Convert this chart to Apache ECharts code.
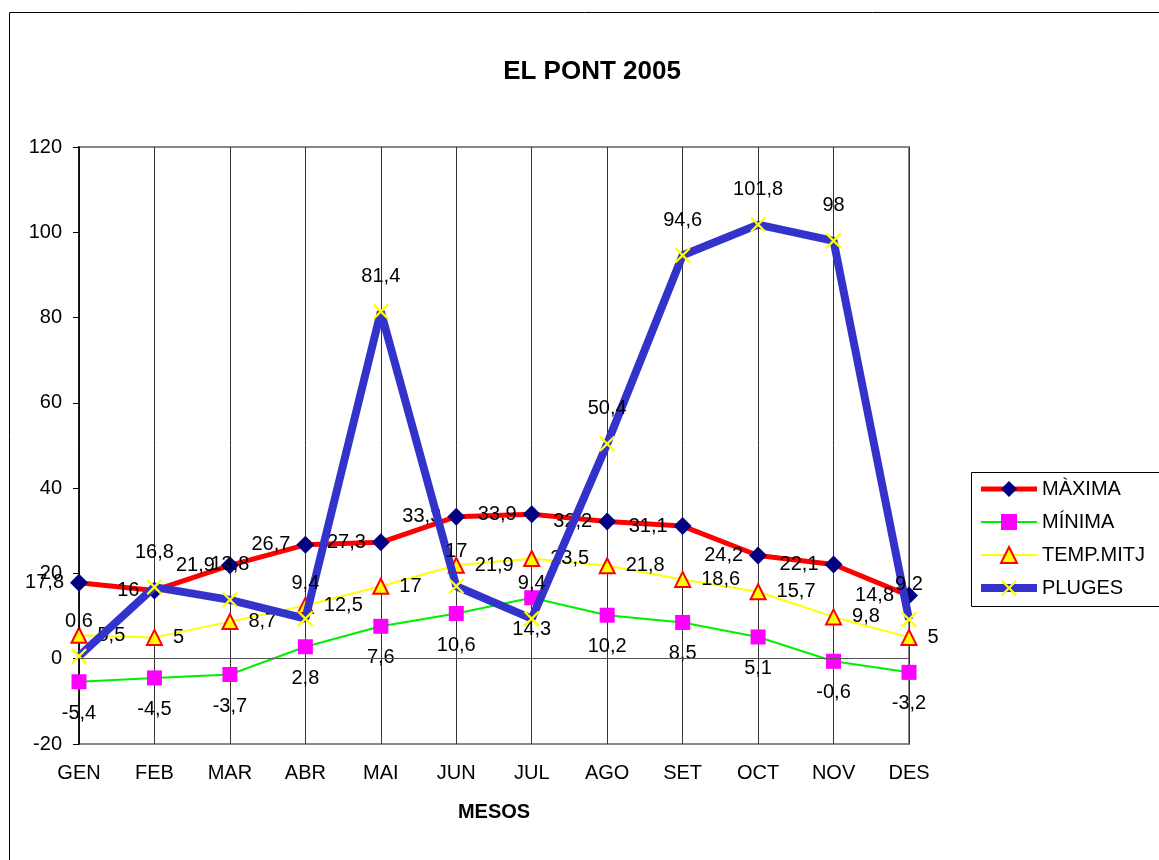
<!DOCTYPE html>
<html>
<head>
<meta charset="utf-8">
<title>EL PONT 2005</title>
<script src="https://cdn.jsdelivr.net/npm/echarts@6/dist/echarts.min.js"></script>
<style>
    html, body { margin: 0; padding: 0; background: #fff; }
    #chart { width: 1159px; height: 860px; }
</style>
</head>
<body>
<div id="chart"></div>
<script>
// dades
const mesos = ["GEN", "FEB", "MAR", "ABR", "MAI", "JUN", "JUL", "AGO", "SET", "OCT", "NOV", "DES"];
const maxima = [17.8, 16, 21.9, 26.7, 27.3, 33.3, 33.9, 32.2, 31.1, 24.2, 22.1, 14.8];
const minima = [-5.4, -4.5, -3.7, 2.8, 7.6, 10.6, 14.3, 10.2, 8.5, 5.1, -0.6, -3.2];
const tempMitj = [5.5, 5, 8.7, 12.5, 17, 21.9, 23.5, 21.8, 18.6, 15.7, 9.8, 5];
const pluges = [0.6, 16.8, 13.8, 9.4, 81.4, 17, 9.4, 50.4, 94.6, 101.8, 98, 9.2];

(function () {
    let myChart = echarts.init(document.getElementById("chart"));
    const font = "Liberation Sans, Arial, sans-serif";
    // etiqueta amb coma decimal
    const coma = function (p) { return String(p.value).replace(".", ","); };
    const creu = "path://M0,1L1,0L5,4L9,0L10,1L6,5L10,9L9,10L5,6L1,10L0,9L4,5Z";

    let option = {
        animation: false,
        textStyle: { fontFamily: font },
        title: {
            text: "EL PONT 2005",
            left: 587,
            textAlign: "center",
            top: 54,
            textStyle: { fontSize: 26, fontWeight: "bold", color: "#000", fontFamily: font }
        },
        graphic: [
            {
                type: "rect",
                shape: { x: 9.5, y: 12.5, width: 1200, height: 900 },
                style: { fill: "none", stroke: "#000", lineWidth: 1 },
                z: -1
            },
            {
                type: "rect",
                shape: { x: 971.5, y: 472.5, width: 250, height: 134 },
                style: { fill: "#fff", stroke: "#000", lineWidth: 1 },
                z: 0
            }
        ],
        legend: {
            orient: "vertical",
            left: 977,
            top: 479,
            padding: 0,
            itemWidth: 56,
            itemHeight: 20,
            itemGap: 13,
            lineStyle: { width: "inherit" },
            textStyle: { fontSize: 20, color: "#000", fontFamily: font },
            data: ["MÀXIMA", "MÍNIMA", "TEMP.MITJ", "PLUGES"]
        },
        grid: {
            left: 79,
            right: 250,
            top: 147,
            bottom: 116,
            show: true,
            borderColor: "#888",
            borderWidth: 2
        },
        xAxis: {
            type: "category",
            data: mesos,
            boundaryGap: false,
            name: "MESOS",
            nameLocation: "middle",
            nameGap: 58,
            nameTextStyle: { fontSize: 20, fontWeight: "bold", color: "#000" },
            axisLine: { show: false },
            axisTick: { show: false },
            axisLabel: { color: "#000", fontSize: 20, margin: 19 },
            splitLine: { show: true, lineStyle: { color: "#333", width: 1 } }
        },
        yAxis: {
            type: "value",
            min: -20,
            max: 120,
            interval: 20,
            axisLine: { show: true, lineStyle: { color: "#000", width: 1.5 } },
            axisTick: { show: true, length: 6, lineStyle: { color: "#000" } },
            axisLabel: { color: "#000", fontSize: 20, margin: 17 },
            splitLine: { show: false }
        },
        series: [
            {
                name: "MÀXIMA",
                type: "line",
                data: maxima,
                symbol: "diamond",
                symbolSize: 18,
                lineStyle: { color: "#ff0000", width: 5 },
                itemStyle: { color: "#000080" },
                label: { show: true, position: "left", distance: 6, fontSize: 20, color: "#000", formatter: coma },
                z: 3
            },
            {
                name: "MÍNIMA",
                type: "line",
                data: minima,
                symbol: "rect",
                symbolSize: 15,
                lineStyle: { color: "#00ee00", width: 2 },
                itemStyle: { color: "#ff00ff" },
                label: { show: true, position: "bottom", distance: 14, fontSize: 20, color: "#000", formatter: coma },
                markLine: {
                    silent: true,
                    symbol: "none",
                    label: { show: false },
                    lineStyle: { color: "#555", width: 1, type: "solid" },
                    data: [{ yAxis: 0 }]
                },
                z: 2
            },
            {
                name: "TEMP.MITJ",
                type: "line",
                data: tempMitj,
                symbol: "triangle",
                symbolSize: 15,
                lineStyle: { color: "#ffff00", width: 2 },
                itemStyle: { color: "#ffff00", borderColor: "#ff0000", borderWidth: 2 },
                label: { show: true, position: "right", distance: 10, fontSize: 20, color: "#000", formatter: coma },
                z: 2
            },
            {
                name: "PLUGES",
                type: "line",
                data: pluges,
                symbol: creu,
                symbolSize: 16,
                lineStyle: { color: "#3333cc", width: 8 },
                itemStyle: { color: "#ffff00" },
                label: { show: true, position: "top", distance: 17, fontSize: 20, color: "#000", formatter: coma },
                z: 4
            }
        ]
    };
    myChart.setOption(option);
    window.addEventListener("resize", function () {
        myChart.resize();
    });
})();
</script>
</body>
</html>
